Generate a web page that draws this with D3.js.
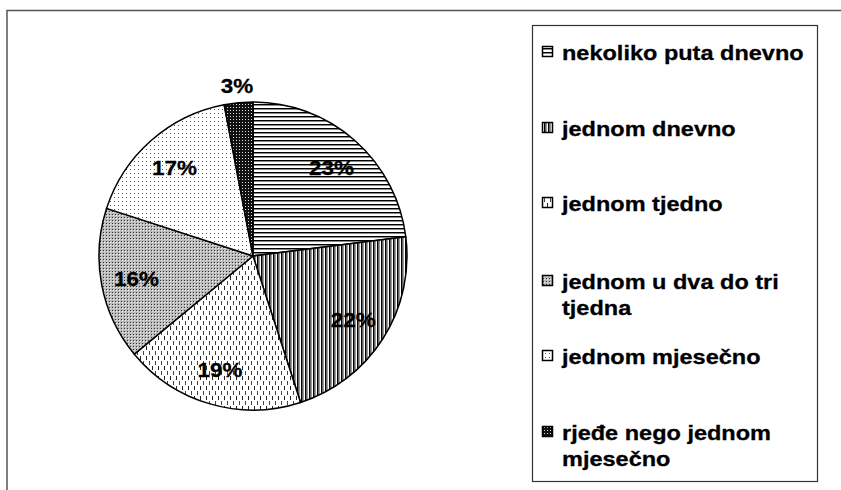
<!DOCTYPE html>
<html>
<head>
<meta charset="utf-8">
<script src="https://cdn.jsdelivr.net/npm/d3@7"></script>
<style>
  body { margin: 0; background: #fff; }
  svg { display: block; }
</style>
</head>
<body>
<div id="chart"></div>
<script>
// Data
const categories = [
  "nekoliko puta dnevno",
  "jednom dnevno",
  "jednom tjedno",
  "jednom u dva do tri tjedna",
  "jednom mjesečno",
  "rjeđe nego jednom mjesečno"
];
const values = [23, 22, 19, 16, 17, 3];
// legend lines (wrapped as in the original)
const legendLines = [
  ["nekoliko puta dnevno"],
  ["jednom dnevno"],
  ["jednom tjedno"],
  ["jednom u dva do tri", "tjedna"],
  ["jednom mjesečno"],
  ["rjeđe nego jednom", "mjesečno"]
];
const patternIds = ["p-hor", "p-vert", "p-dash", "p-grey", "p-dots", "p-dark"];

const WIDTH = 841;
const HEIGHT = 490;
const FONT = "'Liberation Sans', Arial, sans-serif";

const svg = d3
  .select("#chart")
  .append("svg")
  .attr("width", WIDTH)
  .attr("height", HEIGHT);

// Patterns
const defs = svg.append("defs");

function pattern(id, w, h) {
  return defs
    .append("pattern")
    .attr("id", id)
    .attr("patternUnits", "userSpaceOnUse")
    .attr("width", w)
    .attr("height", h);
}

// horizontal lines
let p = pattern("p-hor", 4, 4);
p.append("rect").attr("width", 4).attr("height", 4).attr("fill", "#fff");
p.append("rect").attr("y", 0).attr("width", 4).attr("height", 1).attr("fill", "#000");
p.append("rect").attr("y", 1).attr("width", 4).attr("height", 1).attr("fill", "#888");

// vertical lines
p = pattern("p-vert", 4, 4);
p.append("rect").attr("width", 4).attr("height", 4).attr("fill", "#fff");
p.append("rect").attr("x", 0).attr("width", 1).attr("height", 4).attr("fill", "#000");
p.append("rect").attr("x", 1).attr("width", 1).attr("height", 4).attr("fill", "#666");
p.append("rect").attr("x", 2).attr("width", 1).attr("height", 4).attr("fill", "#999");

// small vertical dashes
p = pattern("p-dash", 6, 10);
p.append("rect").attr("width", 6).attr("height", 10).attr("fill", "#fff");
p.append("rect").attr("x", 1).attr("y", 0).attr("width", 1).attr("height", 4).attr("fill", "#222");
p.append("rect").attr("x", 4).attr("y", 5).attr("width", 1).attr("height", 4).attr("fill", "#444");

// dense grey dots
p = pattern("p-grey", 3, 3);
p.append("rect").attr("width", 3).attr("height", 3).attr("fill", "#bbb");
p.append("rect").attr("width", 1).attr("height", 1).attr("fill", "#333");
p.append("rect").attr("x", 1).attr("y", 1).attr("width", 1).attr("height", 1).attr("fill", "#eee");

// sparse dots
p = pattern("p-dots", 4, 4);
p.append("rect").attr("width", 4).attr("height", 4).attr("fill", "#fff");
p.append("rect").attr("x", 1).attr("y", 1).attr("width", 1).attr("height", 1).attr("fill", "#555");

// dark with white dots
p = pattern("p-dark", 3, 3);
p.append("rect").attr("width", 3).attr("height", 3).attr("fill", "#111");
p.append("rect").attr("x", 1).attr("y", 1).attr("width", 1).attr("height", 1).attr("fill", "#ddd");

// Outer chart frame (cut by window)
svg
  .append("path")
  .attr("d", `M7,${HEIGHT + 2} V10.5 H${WIDTH + 2}`)
  .attr("fill", "none")
  .attr("stroke", "#555")
  .attr("stroke-width", 1.5);

// Pie
const cx = 253;
const cy = 256;
const radius = 154;

const pie = d3.pie().sort(null).value((d) => d)(values);
const arc = d3.arc().innerRadius(0).outerRadius(radius);

const g = svg.append("g").attr("transform", `translate(${cx},${cy})`);

g.selectAll("path.slice")
  .data(pie)
  .enter()
  .append("path")
  .attr("class", "slice")
  .attr("d", arc)
  .attr("fill", (d, i) => `url(#${patternIds[i]})`)
  .attr("stroke", "#000")
  .attr("stroke-width", 1.5)
  .attr("stroke-linejoin", "round");

// Data labels
const labelArc = d3.arc().innerRadius(radius * 0.77).outerRadius(radius * 0.77);
const outerArc = d3.arc().innerRadius(radius * 1.11).outerRadius(radius * 1.11);

g.selectAll("text.label")
  .data(pie)
  .enter()
  .append("text")
  .attr("class", "label")
  .attr("transform", (d) => {
    const c = d.data < 5 ? outerArc.centroid(d) : labelArc.centroid(d);
    return `translate(${c[0]},${c[1]}) scale(1.07,1)`;
  })
  .attr("text-anchor", "middle")
  .attr("dy", "0.36em")
  .attr("font-family", FONT)
  .attr("font-weight", "bold")
  .attr("font-size", "21px")
  .attr("stroke", "#000")
  .attr("stroke-width", 0.3)
  .attr("fill", "#000")
  .text((d) => d.data + "%");

// Legend
const legend = svg.append("g");
legend
  .append("rect")
  .attr("x", 532.5)
  .attr("y", 25.5)
  .attr("width", 285)
  .attr("height", 456)
  .attr("fill", "#fff")
  .attr("stroke", "#333")
  .attr("stroke-width", 1.2);

const legendY = [52, 128, 203, 281, 356, 432];
const lineH = 26;

const items = legend
  .selectAll("g.item")
  .data(categories)
  .enter()
  .append("g")
  .attr("class", "item")
  .attr("transform", (d, i) => `translate(0,${legendY[i]})`);

items
  .append("rect")
  .attr("x", 542.5)
  .attr("y", -5.5)
  .attr("width", 10)
  .attr("height", 10)
  .attr("fill", (d, i) => `url(#${patternIds[i]})`)
  .attr("stroke", "#000")
  .attr("stroke-width", 1.5);

items
  .append("text")
  .attr("transform", "translate(562,0) scale(1.12,1)")
  .attr("font-family", FONT)
  .attr("font-weight", "bold")
  .attr("font-size", "21px")
  .attr("stroke", "#000")
  .attr("stroke-width", 0.3)
  .attr("fill", "#000")
  .selectAll("tspan")
  .data((d, i) => legendLines[i])
  .enter()
  .append("tspan")
  .attr("x", 0)
  .attr("dy", (d, j) => (j === 0 ? "0.36em" : lineH))
  .text((d) => d);
</script>
</body>
</html>
